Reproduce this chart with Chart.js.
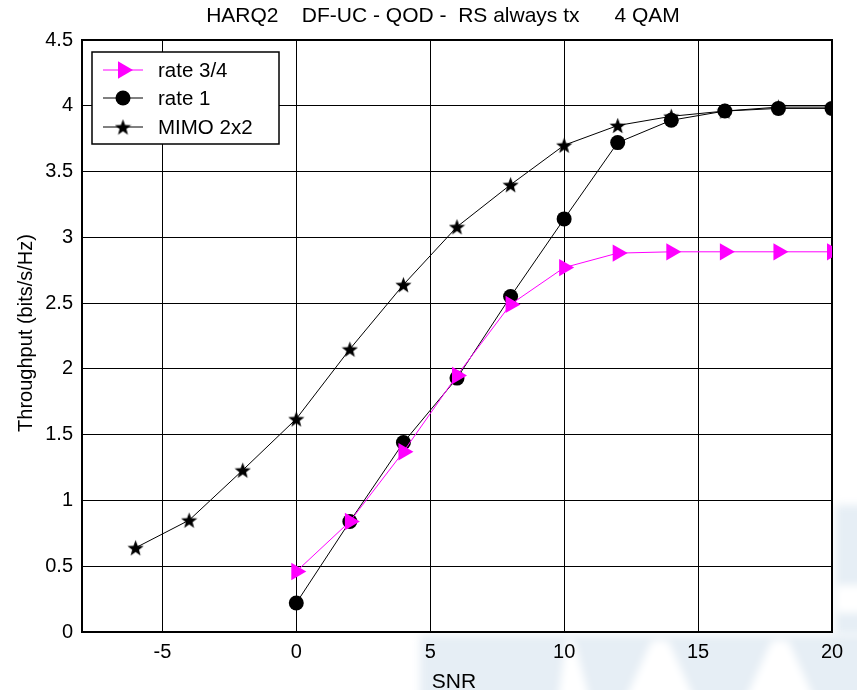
<!DOCTYPE html>
<html>
<head>
<meta charset="utf-8">
<script src="https://cdn.jsdelivr.net/npm/chart.js@4/dist/chart.umd.min.js"></script>
<style>
  html, body { margin: 0; padding: 0; background: #fff; }
  #wrap { width: 857px; height: 690px; position: relative; }
</style>
</head>
<body>
<div id="wrap"><canvas id="c" width="857" height="690"></canvas></div>
<script>
// Throughput vs SNR, HARQ2 DF-UC QOD, 4 QAM
const snrMimo = [-6, -4, -2, 0, 2, 4, 6, 8, 10, 12, 14, 16, 18, 20];
const mimo2x2 = [0.64, 0.85, 1.23, 1.62, 2.15, 2.64, 3.08, 3.40, 3.70, 3.85, 3.92, 3.96, 3.99, 3.99];
const snrRate = [0, 2, 4, 6, 8, 10, 12, 14, 16, 18, 20];
const rate34 = [0.46, 0.84, 1.37, 1.95, 2.49, 2.77, 2.88, 2.89, 2.89, 2.89, 2.89];
const rate1 = [0.22, 0.84, 1.44, 1.93, 2.55, 3.14, 3.72, 3.89, 3.96, 3.98, 3.98];
const xTicks = [-5, 0, 5, 10, 15, 20];
const yTicks = [0, 0.5, 1, 1.5, 2, 2.5, 3, 3.5, 4, 4.5];
const seriesNames = ['rate 3/4', 'rate 1', 'MIMO 2x2'];

const FONT = "'Liberation Sans', Arial, Helvetica, sans-serif";
const MAGENTA = '#ff00ff';

// filled five-point star marker
function makeStar(size) {
  const c = document.createElement('canvas');
  c.width = size; c.height = size;
  const g = c.getContext('2d');
  const cx = size / 2, cy = size / 2 + 0.8, R = size / 2, r = R * 0.42;
  g.beginPath();
  for (let i = 0; i < 10; i++) {
    const rad = (i % 2 === 0) ? R : r;
    const a = -Math.PI / 2 + i * Math.PI / 5;
    const px = cx + rad * Math.cos(a), py = cy + rad * Math.sin(a);
    if (i === 0) g.moveTo(px, py); else g.lineTo(px, py);
  }
  g.closePath();
  g.fillStyle = '#000';
  g.fill();
  return c;
}
const starImg = makeStar(17);

const pts = (xs, ys) => xs.map((x, i) => ({ x: x, y: ys[i] }));

// faint background watermark and white plot face
const backdrop = {
  id: 'backdrop',
  beforeDraw(chart) {
    const { ctx, chartArea: a } = chart;
    ctx.save();
    ctx.fillStyle = '#fff';
    ctx.fillRect(0, 0, chart.width, chart.height);
    ctx.filter = 'blur(4px)';
    ctx.fillStyle = '#e6eef5';
    ctx.fillRect(420, a.bottom + 3, 460, 80);
    ctx.fillRect(a.right + 3, 505, 40, 130);
    ctx.fillStyle = '#fff';
    // pale gaps in the watermark
    ctx.beginPath();
    ctx.moveTo(558, 700); ctx.lineTo(566, 640); ctx.lineTo(574, 640); ctx.lineTo(590, 700); ctx.fill();
    ctx.beginPath();
    ctx.moveTo(625, 700); ctx.lineTo(652, 640); ctx.lineTo(668, 640); ctx.lineTo(695, 700); ctx.fill();
    ctx.beginPath();
    ctx.moveTo(745, 700); ctx.lineTo(772, 640); ctx.lineTo(788, 640); ctx.lineTo(815, 700); ctx.fill();
    ctx.fillRect(a.right + 3, 585, 40, 28);
    ctx.restore();
    ctx.save();
    ctx.fillStyle = '#fff';
    ctx.fillRect(a.left, a.top, a.right - a.left, a.bottom - a.top);
    ctx.restore();
  }
};

// frame, titles and legend box
const decor = {
  id: 'decor',
  beforeDatasetsDraw(chart) {
    const { ctx, chartArea: a } = chart;
    ctx.save();
    ctx.strokeStyle = '#000';
    ctx.lineWidth = 2;
    ctx.strokeRect(a.left, a.top, a.right - a.left, a.bottom - a.top);
    ctx.restore();
  },
  afterDraw(chart) {
    const { ctx } = chart;
    ctx.save();
    ctx.fillStyle = '#000';
    ctx.textAlign = 'center';
    ctx.textBaseline = 'middle';
    ctx.font = '21px ' + FONT;
    ctx.fillText('HARQ2    DF-UC - QOD -  RS always tx      4 QAM', 443, 16);
    ctx.font = '21px ' + FONT;
    ctx.fillText('SNR', 454, 682);
    ctx.translate(26, 333);
    ctx.rotate(-Math.PI / 2);
    ctx.font = '20px ' + FONT;
    ctx.fillText('Throughput (bits/s/Hz)', 0, 0);
    ctx.restore();

    // legend
    const bx = 92, by = 52, bw = 187, bh = 92;
    ctx.save();
    ctx.fillStyle = '#fff';
    ctx.fillRect(bx, by, bw, bh);
    ctx.strokeStyle = '#000';
    ctx.lineWidth = 1.5;
    ctx.strokeRect(bx, by, bw, bh);
    const rows = [70, 98, 127];
    chart.data.datasets.forEach((ds, i) => {
      const y = rows[i];
      ctx.strokeStyle = ds.borderColor;
      ctx.lineWidth = 1;
      ctx.beginPath();
      ctx.moveTo(103, y); ctx.lineTo(143, y); ctx.stroke();
      ctx.fillStyle = ds.pointBackgroundColor;
      if (ds.pointStyle === starImg) {
        ctx.drawImage(starImg, 123 - starImg.width / 2, y - starImg.height / 2);
      } else {
        ctx.beginPath();
        if (ds.pointStyle === 'circle') {
          ctx.arc(123, y, ds.pointRadius, 0, Math.PI * 2);
        } else {
          const r = ds.pointRadius;
          for (let k = 0; k < 3; k++) {
            const ang = k * 2 * Math.PI / 3;
            const px = 123 + r * Math.cos(ang), py = y + r * Math.sin(ang);
            if (k === 0) ctx.moveTo(px, py); else ctx.lineTo(px, py);
          }
          ctx.closePath();
        }
        ctx.fill();
      }
      ctx.fillStyle = '#000';
      ctx.font = '20.5px ' + FONT;
      ctx.textAlign = 'left';
      ctx.textBaseline = 'middle';
      ctx.fillText(ds.label, 158, y + 1);
    });
    ctx.restore();
  }
};

new Chart(document.getElementById('c'), {
  type: 'line',
  data: {
    datasets: [
      {
        label: seriesNames[0],
        data: pts(snrRate, rate34),
        borderColor: MAGENTA,
        backgroundColor: MAGENTA,
        pointBackgroundColor: MAGENTA,
        pointBorderColor: MAGENTA,
        borderWidth: 1,
        pointStyle: 'triangle',
        pointRotation: 90,
        pointRadius: 10,
        pointBorderWidth: 0
      },
      {
        label: seriesNames[1],
        data: pts(snrRate, rate1),
        borderColor: '#000',
        backgroundColor: '#000',
        pointBackgroundColor: '#000',
        pointBorderColor: '#000',
        borderWidth: 1,
        pointStyle: 'circle',
        pointRadius: 7.5,
        pointBorderWidth: 0
      },
      {
        label: seriesNames[2],
        data: pts(snrMimo, mimo2x2),
        borderColor: '#000',
        backgroundColor: '#000',
        pointBackgroundColor: '#000',
        pointBorderColor: '#000',
        borderWidth: 1,
        pointStyle: starImg,
        pointRadius: 8,
        pointBorderWidth: 0
      }
    ]
  },
  options: {
    responsive: false,
    animation: false,
    devicePixelRatio: 1,
    layout: { padding: { top: 40, right: 25, left: 0, bottom: 0 } },
    elements: { line: { tension: 0 } },
    plugins: {
      legend: { display: false },
      title: { display: false },
      tooltip: { enabled: false }
    },
    scales: {
      x: {
        type: 'linear',
        min: -8,
        max: 20,
        afterBuildTicks(s) { s.ticks = xTicks.map(v => ({ value: v })); },
        afterFit(s) { s.height = 58; },
        grid: { color: '#000', lineWidth: 1, drawTicks: false },
        border: { display: false },
        ticks: {
          color: '#000',
          font: { family: FONT, size: 20 },
          padding: 8,
          maxRotation: 0,
          autoSkip: false
        }
      },
      y: {
        type: 'linear',
        min: 0,
        max: 4.5,
        afterBuildTicks(s) { s.ticks = yTicks.map(v => ({ value: v })); },
        afterFit(s) { s.width = 82; },
        grid: { color: '#000', lineWidth: 1, drawTicks: false },
        border: { display: false },
        ticks: {
          color: '#000',
          font: { family: FONT, size: 20 },
          padding: 9,
          autoSkip: false,
          callback: v => String(v)
        }
      }
    }
  },
  plugins: [backdrop, decor]
});
</script>
</body>
</html>
